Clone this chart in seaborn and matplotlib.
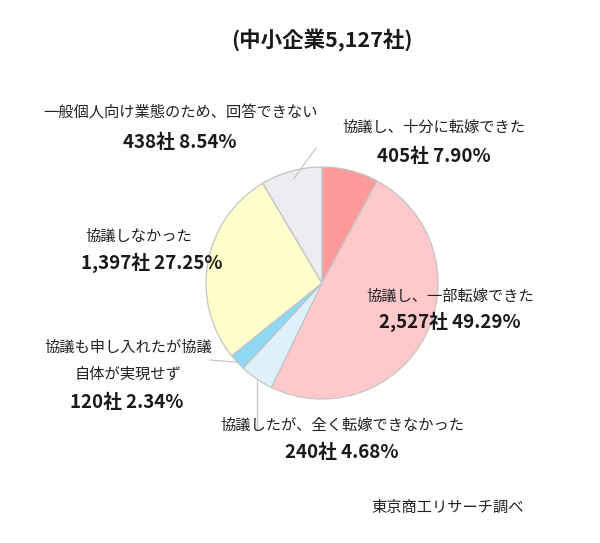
import numpy as np
import pandas as pd
import matplotlib
matplotlib.use("Agg")
import matplotlib.pyplot as plt
import seaborn as sns

# ---- data ----
categories = [
    "協議し、十分に転嫁できた",
    "協議し、一部転嫁できた",
    "協議したが、全く転嫁できなかった",
    "協議も申し入れたが協議\n自体が実現せず",
    "協議しなかった",
    "一般個人向け業態のため、回答できない",
]
counts = [405, 2527, 240, 120, 1397, 438]
percents = [7.90, 49.29, 4.68, 2.34, 27.25, 8.54]
colors = ["#FF9A9A", "#FFC9CC", "#DDF1FB", "#8FD8F4", "#FFFFCC", "#EDEDF1"]
title = "(中小企業5,127社)"
source = "東京商工リサーチ調べ"

df = pd.DataFrame({"cat": categories, "count": counts, "pct": percents})

sns.set_theme(style="white")
plt.rcParams["font.family"] = ["Noto Sans CJK JP", "DejaVu Sans"]

W, H = 600, 543
fig = plt.figure(figsize=(W / 100, H / 100), dpi=100)
ax = fig.add_axes([0, 0, 1, 1])

cx, cy, R = 322, 283, 116
palette = sns.color_palette(colors)
wedges, _ = ax.pie(
    df["pct"], colors=palette, startangle=-90, counterclock=True,
    center=(cx, cy), radius=R,
    wedgeprops=dict(edgecolor="#C4C4C4", linewidth=0.9),
)
ax.set_xlim(0, W)
ax.set_ylim(H, 0)
ax.set_aspect("equal")
ax.axis("off")

# label layout (pixel positions of first label line)
label_pos = [(434, 127), (450, 296), (342, 425), (128, 347), (139, 236), (181, 112)]
num_pos = [(434, 156), (450, 322), (342, 453), (127, 403), (152, 263), (180, 142)]
line_step = 27

for i, (c, n, p) in enumerate(zip(df["cat"], df["count"], df["pct"])):
    lx, ly = label_pos[i]
    for k, line in enumerate(c.split("\n")):
        ax.text(lx, ly + k * line_step, line, ha="center", va="center",
                fontsize=11, color="#222222")
    nx, ny = num_pos[i]
    ax.text(nx, ny, f"{n:,}社 {p:.2f}%", ha="center", va="center",
            fontsize=13.5, fontweight="bold", color="#1a1a1a")

# leader lines from wedge mid-angles
def mid_point(w, frac):
    ang = np.deg2rad((w.theta1 + w.theta2) / 2)
    return cx + frac * R * np.cos(ang), cy + frac * R * np.sin(ang)

lc = "#C8C8C8"
# gray slice
x0, y0 = mid_point(wedges[5], 0.93)
ax.plot([x0, 316], [y0, 148], color=lc, lw=0.9)
# blue slice
x0, y0 = mid_point(wedges[3], 1.0)
ax.plot([x0, 210], [y0, 360], color=lc, lw=0.9)
# light blue slice
x0, y0 = mid_point(wedges[2], 1.0)
ax.plot([x0, x0], [y0, 430], color=lc, lw=0.9)

ax.text(322, 40, title, ha="center", va="center", fontsize=15.5, fontweight="bold",
        color="#1a1a1a")
ax.text(448, 507, source, ha="center", va="center", fontsize=11, color="#222222")

fig.savefig("out.png", dpi=100, facecolor="white")
